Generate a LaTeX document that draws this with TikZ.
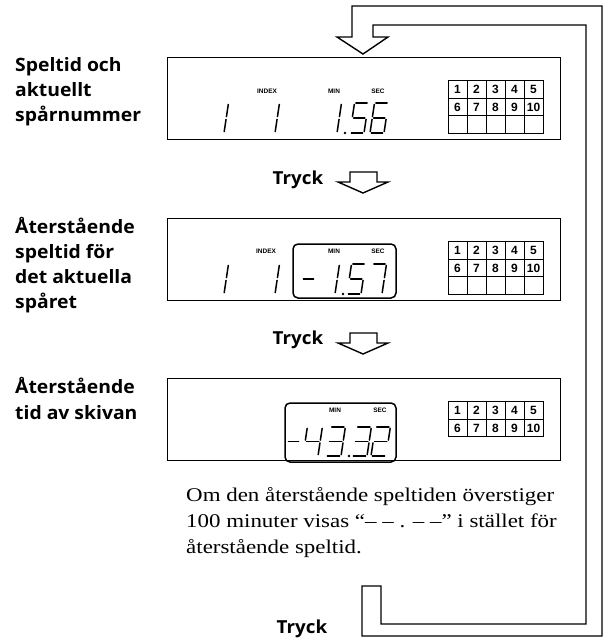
\documentclass[tikz,border=0pt]{standalone}
\usepackage{fontspec}
\newfontfamily\labfont[FakeStretch=1.05]{Open Sans}
\newfontfamily\helfont{Liberation Sans}
\newfontfamily\parafont[FakeStretch=1.18]{Liberation Serif}
\newcommand\segpt[2]{({\dx+#1+\sl*(#2)},{\dy-(#2)})}
\def\sga{\segpt{0}{\dh} -- \segpt{\dw}{\dh}}
\def\sgb{\segpt{\dw}{\dh} -- \segpt{\dw}{\dh/2}}
\def\sgc{\segpt{\dw}{\dh/2} -- \segpt{\dw}{0}}
\def\sgd{\segpt{0}{0} -- \segpt{\dw}{0}}
\def\sge{\segpt{0}{0} -- \segpt{0}{\dh/2}}
\def\sgf{\segpt{0}{\dh/2} -- \segpt{0}{\dh}}
\def\sgg{\segpt{0}{\dh/2} -- \segpt{\dw}{\dh/2}}
\newcommand\lcddigit[2]{\def\dx{#1}\foreach \q in {#2}{\expandafter\let\expandafter\segpath\csname sg\q\endcsname \draw[seg] \segpath;}}
\newcommand\lcdset[4]{\def\dy{#1}\def\dw{#2}\def\dh{#3}\def\sl{#4}}
\newcommand\numgrid[3]{% #1 id, #2 top, #3 rows
  \pgfmathsetmacro\gbot{#2+17.5*#3}
  \draw[gridline] (448,#2) rectangle (543,\gbot);
  \foreach \cc in {1,...,4} {\draw[gridline] ({448+19*\cc},#2) -- ({448+19*\cc},\gbot);}
  \draw[gridline] (448,{#2+17.5}) -- (543,{#2+17.5});
  \ifnum#3>2 \draw[gridline] (448,{#2+35}) -- (543,{#2+35});\fi
  \foreach \nn in {1,...,5} {
    \node[cellnum] (g#1-\nn) at ({448+19*\nn-9.5},{#2+8.9}) {\nn};
    \pgfmathtruncatemacro\mm{\nn+5}
    \node[cellnum] (g#1-\mm) at ({448+19*\nn-9.5},{#2+26.4}) {\mm};
  }}
\begin{document}
\begin{tikzpicture}[x=1bp,y=-1bp,
  lbl/.style={anchor=base west, inner sep=0, font=\labfont\bfseries\fontsize{18.5}{20}\selectfont},
  press/.style={inner sep=0, font=\labfont\bfseries\fontsize{18}{20}\selectfont},
  lcdbox/.style={draw, line width=1.4bp, minimum width=393bp, minimum height=82bp, anchor=north west, inner sep=0},
  innerbox/.style={draw, line width=1.5bp, rounded corners=5bp},
  seg/.style={line width=1.5bp, line cap=round, shorten <=1.4bp, shorten >=1.4bp},
  tinylbl/.style={inner sep=0, font=\helfont\bfseries\fontsize{6.5}{7}\selectfont},
  cellnum/.style={inner sep=0, font=\helfont\bfseries\fontsize{12}{12}\selectfont},
  gridline/.style={line width=0.9bp},
  blockarrow/.style={draw, line width=1.4bp, line join=miter, fill=white},
  paraline/.style={anchor=base west, inner sep=0, font=\parafont\fontsize{19.5}{22}\selectfont}
]
\useasboundingbox (0,0) rectangle (608,639);

% ---------- loop arrow ----------
\coordinate (loopstart) at (362,586);
\draw[blockarrow] (loopstart) -- (381,586) -- (381,624) -- (586,624) -- (586,25) -- (373,25)
  -- (373,37) -- (388,37) -- (363,54) -- (337,37) -- (352,37) -- (352,6) -- (602,6)
  -- (602,636) -- (362,636) -- cycle;

% ---------- boxes ----------
\node[lcdbox] (b1) at (167,57) {};
\node[lcdbox] (b2) at (167,218) {};
\node[lcdbox] (b3) at (167,378) {};
\draw[innerbox] (293,244) rectangle (396,298);
\draw[innerbox] (285,403) rectangle (396,462);

% ---------- left labels ----------
\node[lbl] (l11) at (15,72) {Speltid och};
\node[lbl] (l12) at (15,97) {aktuellt};
\node[lbl] (l13) at (15,122) {spårnummer};
\node[lbl] (l21) at (15,233) {Återstående};
\node[lbl] (l22) at (15,258) {speltid för};
\node[lbl] (l23) at (15,283) {det aktuella};
\node[lbl] (l24) at (15,308) {spåret};
\node[lbl] (l31) at (15,393) {Återstående};
\node[lbl] (l32) at (15,419) {tid av skivan};

% ---------- Tryck + arrows ----------
\node[press] (t1) at (298,180) {Tryck};
\draw[blockarrow] (350,172) -- (377,172) -- (377,182) -- (388,182) -- (363,193) -- (338,182) -- (350,182) -- cycle;
\node[press] (t2) at (298,340) {Tryck};
\draw[blockarrow] (350,333) -- (377,333) -- (377,343) -- (388,343) -- (363,354) -- (338,343) -- (350,343) -- cycle;
\node[press] (t3) at (302,629) {Tryck};

% ---------- small labels ----------
\node[tinylbl] (ix1) at (267,91) {INDEX};
\node[tinylbl] (mn1) at (334,91) {MIN};
\node[tinylbl] (sc1) at (378,91) {SEC};
\node[tinylbl] (ix2) at (266,251) {INDEX};
\node[tinylbl] (mn2) at (334,251) {MIN};
\node[tinylbl] (sc2) at (378,251) {SEC};
\node[tinylbl] (mn3) at (335,410) {MIN};
\node[tinylbl] (sc3) at (380,410) {SEC};

% ---------- grids ----------
\numgrid{1}{80.5}{3}
\numgrid{2}{241.5}{3}
\numgrid{3}{401.5}{2}

% ---------- LCD digits ----------
% box 1
\lcdset{133}{14}{30}{0.15}
\lcddigit{210}{b,c}
\lcddigit{261}{b,c}
\lcddigit{323}{b,c}
\fill (345,133) circle (1.3bp);
\lcddigit{350}{a,f,g,c,d}
\lcddigit{370}{a,f,g,e,c,d}
% box 2
\lcdset{294}{14}{30}{0.15}
\lcddigit{210}{b,c}
\lcddigit{261}{b,c}
\draw[seg] (302,279) -- (315,279);
\lcddigit{321}{b,c}
\fill (343,294) circle (1.3bp);
\lcddigit{347}{a,f,g,c,d}
\lcddigit{368}{a,b,c}
% box 3
\lcdset{456}{15}{29}{0.15}
\draw[seg] (287,441.5) -- (300,441.5);
\lcddigit{303}{f,g,b,c}
\lcddigit{326}{a,b,g,c,d}
\fill (349,456) circle (1.3bp);
\lcddigit{352}{a,b,g,c,d}
\lcddigit{371}{a,b,g,e,d}

% ---------- paragraph ----------
\node[paraline] (p1) at (186,501) {Om den återstående speltiden överstiger};
\node[paraline] (p2) at (186,527) {100 minuter visas “– – . – –” i stället för};
\node[paraline] (p3) at (186,553) {återstående speltid.};
\end{tikzpicture}
\end{document}
